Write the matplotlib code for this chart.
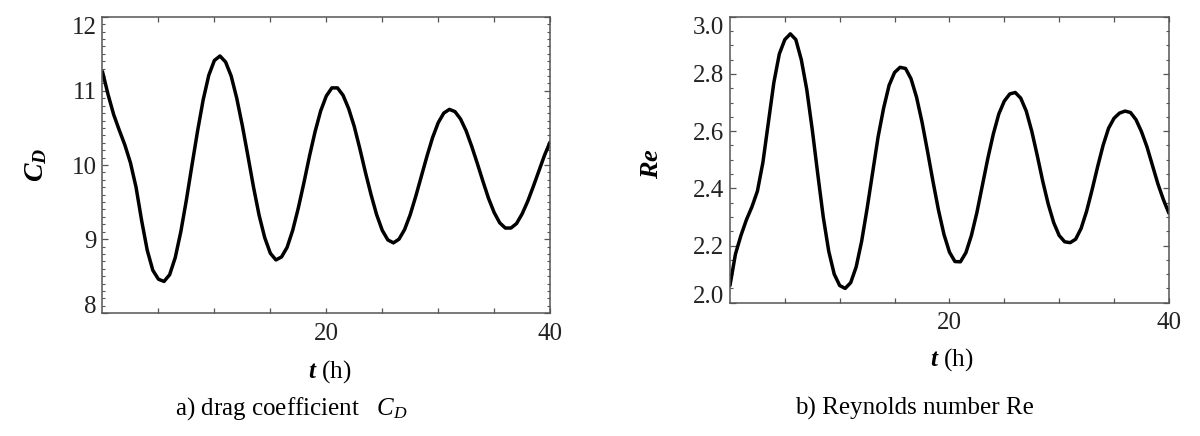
import matplotlib
matplotlib.use("Agg")
import matplotlib.pyplot as plt
from matplotlib.ticker import FixedLocator, MultipleLocator

# Datos (t en horas)
horas = [0, 0.5, 1, 1.5, 2, 2.5, 3, 3.5, 4, 4.5, 5, 5.5,
         6, 6.5, 7, 7.5, 8, 8.5, 9, 9.5, 10, 10.5,
         11, 11.5, 12, 12.5, 13, 13.5, 14, 14.5, 15, 15.5,
         16, 16.5, 17, 17.5, 18, 18.5, 19, 19.5, 20, 20.5,
         21, 21.5, 22, 22.5, 23, 23.5, 24, 24.5, 25, 25.5,
         26, 26.5, 27, 27.5, 28, 28.5, 29, 29.5, 30, 30.5,
         31, 31.5, 32, 32.5, 33, 33.5, 34, 34.5, 35, 35.5,
         36, 36.5, 37, 37.5, 38, 38.5, 39, 39.5, 40]

coef_arrastre = [11.26, 10.95, 10.68, 10.47, 10.27, 10.03, 9.70, 9.25, 8.85, 8.58, 8.46, 8.43,
                 8.52, 8.75, 9.10, 9.53, 10.00, 10.46, 10.88, 11.21, 11.41, 11.47,
                 11.39, 11.20, 10.90, 10.53, 10.12, 9.70, 9.32, 9.02, 8.81, 8.72,
                 8.76, 8.89, 9.12, 9.42, 9.76, 10.12, 10.45, 10.73, 10.93, 11.04,
                 11.04, 10.94, 10.76, 10.52, 10.22, 9.90, 9.60, 9.33, 9.12, 8.99,
                 8.95, 9.00, 9.13, 9.33, 9.58, 9.85, 10.12, 10.37, 10.57, 10.70,
                 10.75, 10.72, 10.62, 10.46, 10.25, 10.02, 9.78, 9.55, 9.36, 9.22,
                 9.15, 9.15, 9.21, 9.34, 9.51, 9.71, 9.92, 10.13, 10.31]

reynolds = [2.06, 2.17, 2.235, 2.29, 2.335, 2.39, 2.49, 2.63, 2.77, 2.87, 2.92, 2.94,
            2.92, 2.85, 2.745, 2.605, 2.45, 2.30, 2.18, 2.10, 2.06, 2.05,
            2.07, 2.125, 2.215, 2.33, 2.455, 2.58, 2.68, 2.76, 2.805, 2.823,
            2.819, 2.783, 2.719, 2.632, 2.53, 2.424, 2.324, 2.239, 2.177, 2.144,
            2.143, 2.175, 2.235, 2.315, 2.41, 2.505, 2.59, 2.66, 2.705, 2.73,
            2.735, 2.715, 2.67, 2.60, 2.515, 2.425, 2.345, 2.28, 2.235, 2.213,
            2.21, 2.222, 2.26, 2.32, 2.395, 2.475, 2.55, 2.61, 2.645, 2.663,
            2.67, 2.665, 2.64, 2.598, 2.545, 2.48, 2.415, 2.36, 2.313]

ticks_cd = [8, 9, 10, 11, 12]
etiquetas_cd = ["8", "9", "10", "11", "12"]
ticks_re = [2.0, 2.2, 2.4, 2.6, 2.8, 3.0]
etiquetas_re = ["2.0", "2.2", "2.4", "2.6", "2.8", "3.0"]
ticks_t = [20, 40]
etiquetas_t = ["20", "40"]
ticks_t_menores = [5, 10, 15, 25, 30, 35]

plt.rcParams['font.family'] = ['Liberation Serif', 'DejaVu Serif']
plt.rcParams['mathtext.fontset'] = 'custom'
plt.rcParams['mathtext.it'] = 'Liberation Serif:italic:bold'
plt.rcParams['mathtext.rm'] = 'Liberation Serif'
plt.rcParams['mathtext.sf'] = 'Liberation Serif:italic'

COLOR_MARCO = '#555555'
TAM = 18


def preparar_eje(ax, yticks, ylabels, ymin, ymax, ymenor):
    ax.set_xlim(0, 40)
    ax.set_ylim(ymin, ymax)
    ax.xaxis.set_major_locator(FixedLocator(ticks_t))
    ax.set_xticklabels(etiquetas_t)
    ax.xaxis.set_minor_locator(FixedLocator(ticks_t_menores))
    ax.yaxis.set_major_locator(FixedLocator(yticks))
    ax.set_yticklabels(ylabels)
    ax.yaxis.set_minor_locator(MultipleLocator(ymenor))
    for s in ax.spines.values():
        s.set_color(COLOR_MARCO)
        s.set_linewidth(1.1)
    ax.tick_params(which='both', direction='in', top=True, right=True,
                   color=COLOR_MARCO, labelsize=TAM, labelcolor='#222222')
    ax.tick_params(axis='x', which='both', length=3.5, width=0.9, pad=7)
    ax.tick_params(axis='y', which='major', length=4.5, width=0.9, pad=4)
    ax.tick_params(axis='y', which='minor', length=2.2, width=0.8)
    etiquetas = ax.get_yticklabels()
    etiquetas[0].set_va('baseline')
    etiquetas[-1].set_va('top')


fig = plt.figure(figsize=(12, 4.36), dpi=100)

ax1 = fig.add_axes([0.0854, 0.2814, 0.373, 0.6803])
ax1.plot(horas, coef_arrastre, color='black', linewidth=2.5,
         solid_joinstyle='round', solid_capstyle='round')
preparar_eje(ax1, ticks_cd, etiquetas_cd, 8, 12, 0.1)
ax1.set_xlabel(r'$t$ (h)', fontsize=TAM)
ax1.xaxis.set_label_coords(0.508, -0.198)
ax1.xaxis.label.set_va('center')
ax1.set_ylabel(r'$C_D$', fontsize=TAM + 2)
ax1.yaxis.set_label_coords(-0.148, 0.50)
ax1.yaxis.label.set_va('center')

ax2 = fig.add_axes([0.6083, 0.3057, 0.3658, 0.656])
ax2.plot(horas, reynolds, color='black', linewidth=2.5,
         solid_joinstyle='round', solid_capstyle='round')
preparar_eje(ax2, ticks_re, etiquetas_re, 2.0, 3.0, 0.05)
ax2.set_xlabel(r'$t$ (h)', fontsize=TAM)
ax2.xaxis.set_label_coords(0.506, -0.200)
ax2.xaxis.label.set_va('center')
ax2.set_ylabel(r'$Re$', fontsize=TAM + 1)
ax2.yaxis.set_label_coords(-0.178, 0.488)
ax2.yaxis.label.set_va('center')

fig.text(0.243, 0.064, r'a) drag coefficient   $\mathsf{C}_\mathsf{D}$',
         fontsize=TAM, ha='center', va='center')
fig.text(0.762, 0.064, 'b) Reynolds number Re',
         fontsize=TAM, ha='center', va='center')

fig.savefig('out.png', dpi=100)
